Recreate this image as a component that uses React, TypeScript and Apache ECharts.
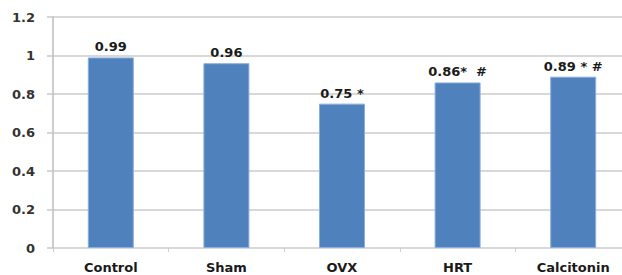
import React, { useEffect, useRef } from "react";
import * as echarts from "echarts";

const categories = ["Control", "Sham", "OVX", "HRT", "Calcitonin"];
const values = [0.99, 0.96, 0.75, 0.86, 0.89];
const valueLabels = ["0.99", "0.96", "0.75 *", "0.86*  #", "0.89 * #"];
const yTicks = [0, 0.2, 0.4, 0.6, 0.8, 1, 1.2];

export default function App() {
  const ref = useRef<HTMLDivElement>(null);
  useEffect(() => {
    document.body.style.margin = "0";
    document.body.style.overflow = "hidden";
    const chart = echarts.init(ref.current!, undefined, { renderer: "svg" });
    chart.setOption({
      animation: false,
      backgroundColor: "#ffffff",
      grid: { left: 53, right: 0, top: 17, bottom: 27, containLabel: false },
      xAxis: {
        type: "category",
        data: categories,
        axisLine: { show: false },
        axisTick: { show: true, length: 4, lineStyle: { color: "#cfcfcf", width: 1 } },
        axisLabel: {
          margin: 13,
          color: "#1a1a1a",
          fontFamily: "DejaVu Sans",
          fontWeight: "bold",
          fontSize: 13,
        },
      },
      yAxis: {
        type: "value",
        min: yTicks[0],
        max: yTicks[yTicks.length - 1],
        interval: 0.2,
        axisLine: { show: true, lineStyle: { color: "#bdbdbd", width: 1.5 } },
        axisTick: { show: true, length: 6, lineStyle: { color: "#c8c8c8", width: 1.5 } },
        splitLine: { show: true, lineStyle: { color: "#cbcbcb", width: 1.5 } },
        axisLabel: {
          margin: 18,
          color: "#333333",
          fontFamily: "DejaVu Sans",
          fontWeight: "bold",
          fontSize: 13,
          formatter: (v: number) => String(Math.round(v * 10) / 10),
        },
      },
      series: [
        {
          type: "bar",
          data: values,
          barWidth: 46,
          itemStyle: { color: "#4f81bd", borderColor: "#8aaede", borderWidth: 1 },
          label: {
            show: true,
            position: "top",
            distance: 4,
            color: "#1a1a1a",
            fontFamily: "DejaVu Sans",
            fontWeight: "bold",
            fontSize: 13,
            formatter: (p: any) => valueLabels[p.dataIndex],
          },
        },
      ],
    });
    return () => chart.dispose();
  }, []);
  return (
    <div style={{ width: 622, height: 275, overflow: "hidden", position: "relative" }}>
      <div ref={ref} style={{ width: 631, height: 275, position: "absolute", left: 0, top: 0 }} />
    </div>
  );
}
